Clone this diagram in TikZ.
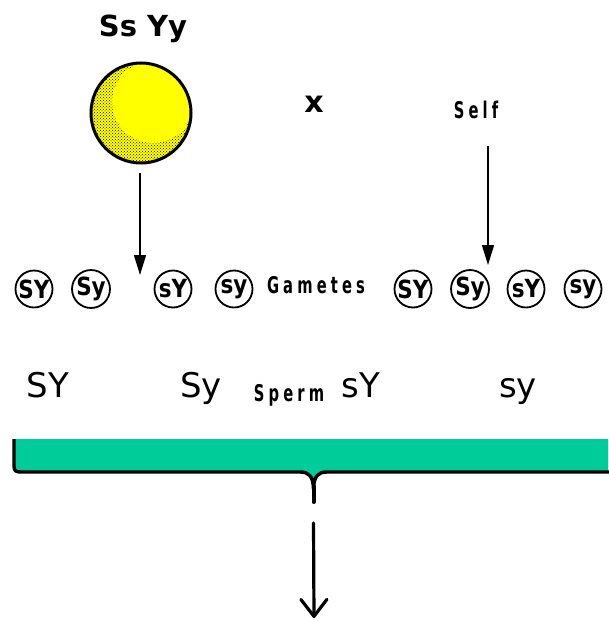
\documentclass[tikz,border=0pt]{standalone}
\usepackage{fontspec}
\setmainfont{DejaVu Sans}
\newfontfamily\condfont{DejaVu Sans Bold}[FakeStretch=0.64,LetterSpace=18]
\newfontfamily\circfont{DejaVu Sans Bold}[FakeStretch=0.86]
\newfontfamily\boldsans{DejaVu Sans Bold}
\usetikzlibrary{arrows.meta,patterns}
\definecolor{seagreen}{RGB}{0,204,153}
\definecolor{ballyellow}{RGB}{255,255,0}
\tikzset{
  gamete/.style={circle,draw=black,line width=1.8pt,minimum size=37pt,inner sep=0pt,
    font=\circfont\fontsize{25}{25}\selectfont},
  label/.style={inner sep=0pt,font=\condfont\fontsize{23}{23}\selectfont},
  allele/.style={inner sep=0pt,anchor=base,font=\fontsize{34}{34}\selectfont},
  thinarrow/.style={line width=1.4pt,-{Triangle[length=20pt,width=12pt]}},
  bigarrow/.style={line width=3.2pt,line cap=round,-{Straight Barb[length=17pt,width=26pt,line cap=round,line join=round]}},
}
\begin{document}
\begin{tikzpicture}[x=1pt,y=-1pt]
\useasboundingbox (0,0) rectangle (608,621);

% parent genotype and the yellow seed
\node[inner sep=0pt,font=\boldsans\fontsize{29}{29}\selectfont] (parent) at (143,29) {Ss Yy};
\begin{scope}
  \clip (141,113) circle (50);
  \fill[ballyellow] (141,113) circle (50);
  \fill[pattern=crosshatch dots,pattern color=black,even odd rule]
    (141,113) circle (50) (153,102) circle (41);
\end{scope}
\draw[line width=3pt] (141,113) circle (50);
\node[circle,minimum size=100pt,inner sep=0pt] (seed) at (141,113) {};

\node[inner sep=0pt,font=\boldsans\fontsize{30}{30}\selectfont] (cross) at (314,104) {x};
\node[label] (self) at (476,110) {Self};

% gametes
\node[gamete] (g1) at (34,289) {SY};
\node[gamete] (g2) at (91,289) {Sy};
\node[gamete] (g3) at (173,289) {sY};
\node[gamete] (g4) at (234,289) {sy};
\node[label] (gametes) at (316,285) {Gametes};
\node[gamete] (h1) at (413,289) {SY};
\node[gamete] (h2) at (470,289) {Sy};
\node[gamete] (h3) at (526,289) {sY};
\node[gamete] (h4) at (583,289) {sy};

\coordinate (lefttip) at (140,275);
\coordinate (righttip) at (488,265);
\draw[thinarrow] (seed.south -| lefttip) ++(0,10) -- (lefttip);
\draw[thinarrow] (self.south -| righttip) ++(0,27) -- (righttip);

% sperm row
\node[allele] (s1) at (48,397) {SY};
\node[allele] (s2) at (201,397) {Sy};
\node[label,anchor=base] (sperm) at (289,401) {Sperm};
\node[allele] (s3) at (361,397) {sY};
\node[allele] (s4) at (518,397) {sy};

% bracket gathering the sperm
\fill[seagreen] (14,439) -- (14,466) .. controls (14,471) and (16,472) .. (21,472) -- (300,472)
  .. controls (309,472) and (313,476) .. (313.5,489)
  .. controls (314,476) and (318,472) .. (327,472) -- (608,472) -- (608,439) -- cycle;
\draw[line width=3.4pt,line join=round]
  (14,439) -- (14,466) .. controls (14,471) and (16,472) .. (21,472) -- (300,472)
  .. controls (309,472) and (313,476) .. (313.5,489)
  .. controls (314,476) and (318,472) .. (327,472) -- (610,472);
\draw[line width=4pt,line cap=round] (313.5,486) -- (313.5,502);
\coordinate (bracetip) at (313.5,502);

\coordinate (arrowend) at (314,618);
\draw[bigarrow] (bracetip) ++(0,21) -- (arrowend);
\end{tikzpicture}
\end{document}
